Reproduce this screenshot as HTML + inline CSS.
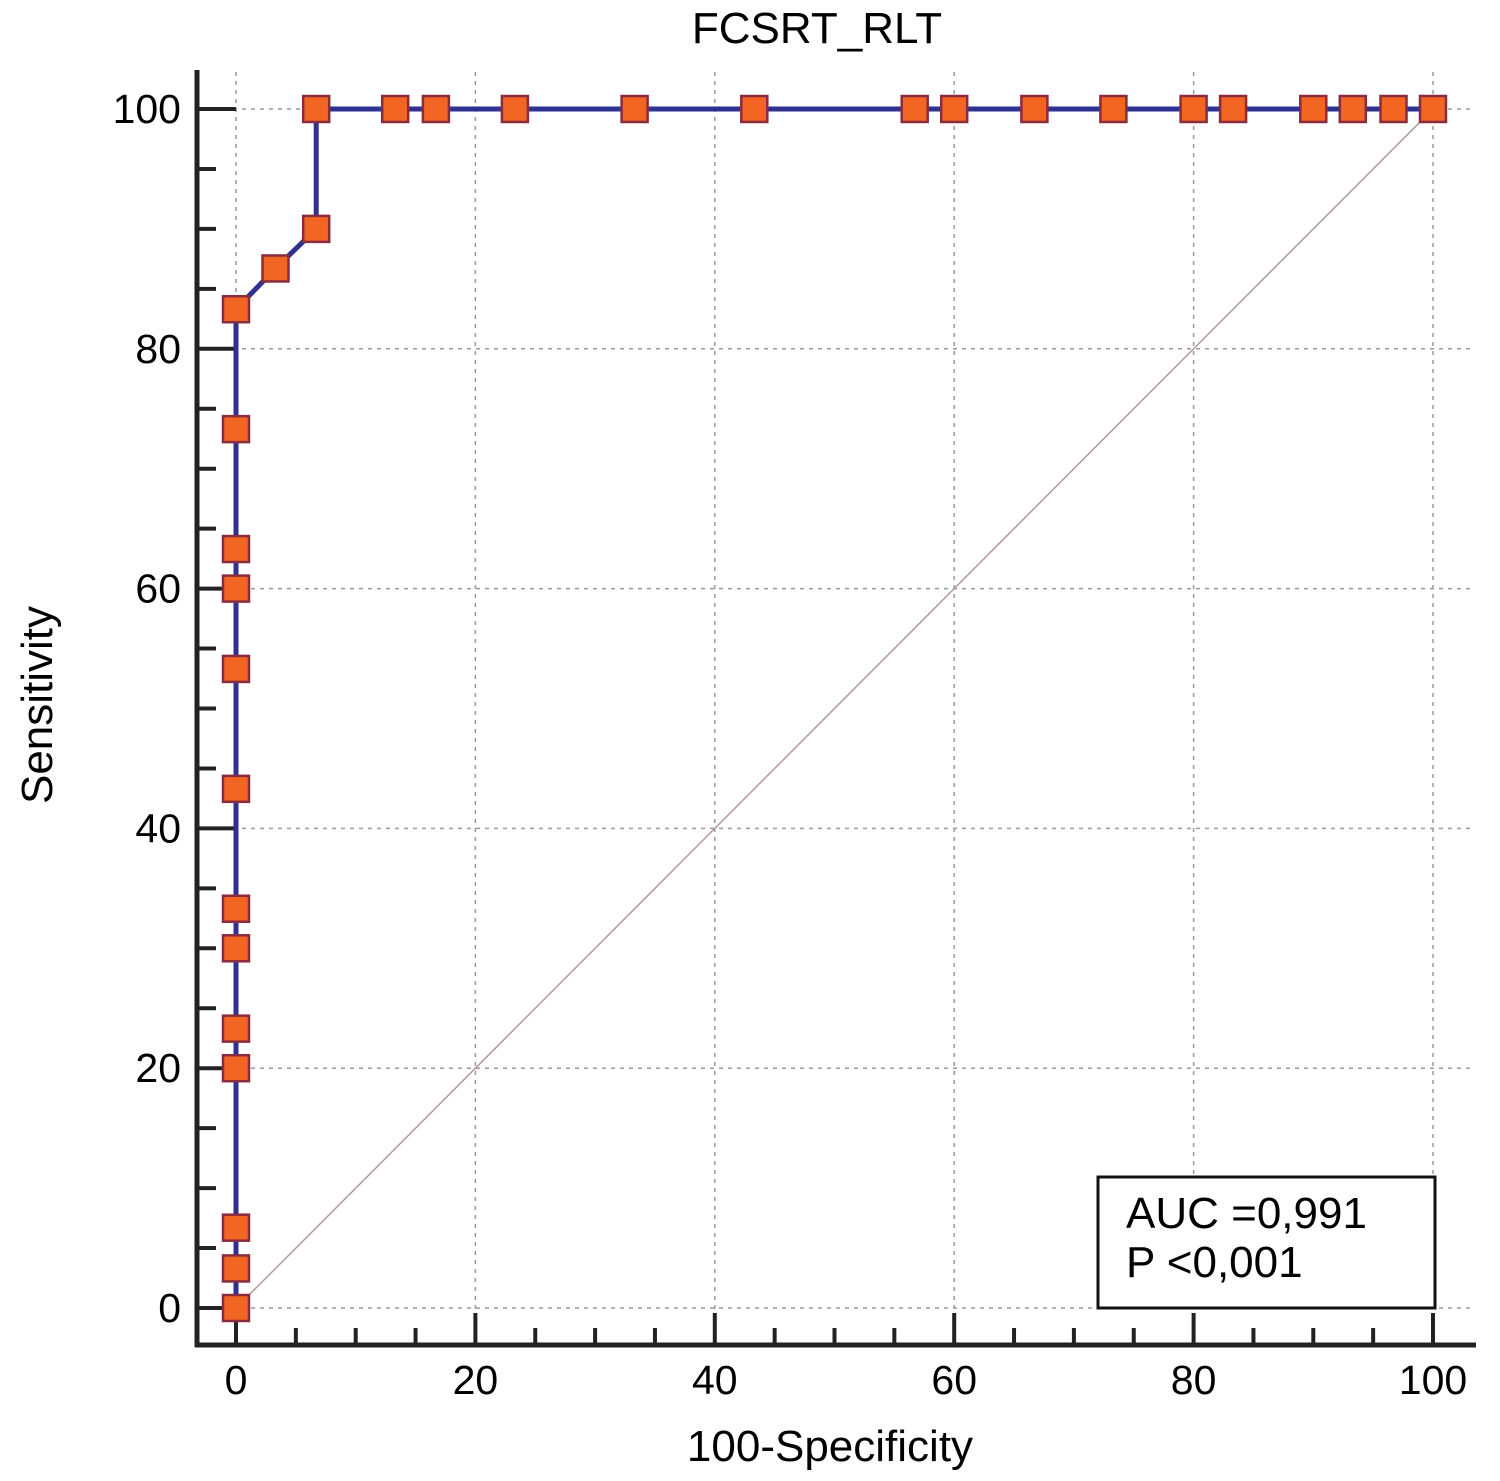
<!DOCTYPE html>
<html><head><meta charset="utf-8"><style>
body{margin:0;background:#fff;}
svg{display:block;font-family:"Liberation Sans",Arial,sans-serif;}
</style></head><body>
<svg id="chart" width="1500" height="1481" viewBox="0 0 1500 1481">
<text x="817" y="43" font-size="44" text-anchor="middle">FCSRT_RLT</text>
<text transform="translate(52,705) rotate(-90)" font-size="44" text-anchor="middle">Sensitivity</text>
<text x="830" y="1461" font-size="44" text-anchor="middle">100-Specificity</text>
<g id="grid"></g>
<g id="axes"></g>
<line id="diag" stroke="#b09a9a" stroke-width="1.5"/>
<polyline id="roc" fill="none" stroke="#2e3192" stroke-width="5"/>
<g id="markers"></g>
<rect x="1098" y="1177" width="337" height="131" fill="#fff" stroke="#111" stroke-width="3"/>
<text x="1126" y="1228" font-size="44">AUC =0,991</text>
<text x="1126" y="1277" font-size="44">P &lt;0,001</text>
</svg>
<script>
const fpr = [0,0,0,0,0,0,0,0,0,0,0,0,0,3.3,6.7,6.7,13.3,16.7,23.3,33.3,43.3,56.7,60,66.7,73.3,80,83.3,90,93.3,96.7,100];
const tpr = [0,3.3,6.7,20,23.3,30,33.3,43.3,53.3,60,63.3,73.3,83.3,86.7,90,100,100,100,100,100,100,100,100,100,100,100,100,100,100,100,100];
const tickValues = [0,20,40,60,80,100];
const tickLabels = ["0","20","40","60","80","100"];
const NS="http://www.w3.org/2000/svg";
const sx=v=>236+v*11.97, sy=v=>1308-v*11.99;
function mk(tag,attrs,parent){const e=document.createElementNS(NS,tag);for(const k in attrs)e.setAttribute(k,attrs[k]);parent.appendChild(e);return e;}
const grid=document.getElementById('grid'), axes=document.getElementById('axes');
tickValues.forEach((v,i)=>{
  let g=mk('line',{x1:sx(v),x2:sx(v),y1:72,y2:1345,stroke:'#999','stroke-width':1.5,'stroke-dasharray':'4,5'},grid);
  
  
  g=mk('line',{x1:197,x2:1470,y1:sy(v),y2:sy(v),stroke:'#999','stroke-width':1.5,'stroke-dasharray':'4,5'},grid);
  
  
  let t=mk('text',{x:sx(v),y:1394,'font-size':41,'text-anchor':'middle'},axes);t.textContent=tickLabels[i];
  
  
  t=mk('text',{x:181,y:sy(v)+14,'font-size':41,'text-anchor':'end'},axes);t.textContent=tickLabels[i];
  
  
});
for(let v=0;v<=100;v+=5){
  const major=v%20===0;
  mk('line',{x1:197,x2:major?236:216,y1:sy(v),y2:sy(v),stroke:'#222','stroke-width':4},axes);
  mk('line',{x1:sx(v),x2:sx(v),y1:1345,y2:major?1313:1328,stroke:'#222','stroke-width':4},axes);
}
mk('line',{x1:197,x2:197,y1:70,y2:1347,stroke:'#222','stroke-width':5},axes);
mk('line',{x1:195,x2:1476,y1:1345,y2:1345,stroke:'#222','stroke-width':5},axes);
const d=document.getElementById('diag');d.setAttribute('x1',sx(0));d.setAttribute('y1',sy(0));d.setAttribute('x2',sx(100));d.setAttribute('y2',sy(100));
document.getElementById('roc').setAttribute('points',fpr.map((x,i)=>sx(x)+','+sy(tpr[i])).join(' '));
const m=document.getElementById('markers');
fpr.forEach((x,i)=>{
  const r=mk('rect',{x:sx(x)-13,y:sy(tpr[i])-13,width:26,height:26,fill:'#f26522',stroke:'#8a2b3e','stroke-width':2.5},m);
  
  
});
</script>
</body></html>
